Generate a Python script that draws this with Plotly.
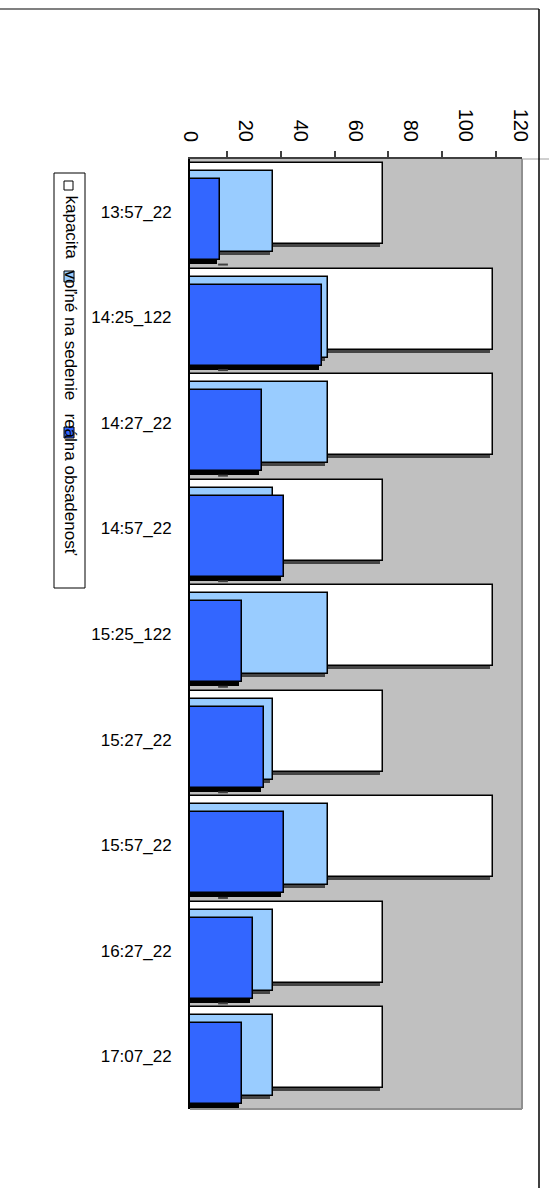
import plotly.graph_objects as go

# Bus departures (time_line) and their occupancy figures
categories = ["13:57_22", "14:25_122", "14:27_22", "14:57_22", "15:25_122",
              "15:27_22", "15:57_22", "16:27_22", "17:07_22"]
kapacita = [70, 110, 110, 70, 110, 70, 110, 70, 70]
volne_na_sedenie = [30, 50, 50, 30, 50, 30, 50, 30, 30]
realna_obsadenost = [11, 48, 26, 34, 19, 27, 34, 23, 19]
value_ticks = [0, 20, 40, 60, 80, 100, 120]

series_names = ["kapacita", "voľné na sedenie", "reálna obsadenosť"]

FONT = "Arial, Liberation Sans, sans-serif"
W, H = 549, 1188
PL, PR, PT, PB = 190, 522, 159, 1109   # plot area in pixels
PW, PH = PR - PL, PB - PT
X_MAX = 120.7                            # value range shown


def px(x):
    return (x - PL) / PW


def py(y):
    return (PB - y) / PH


pos = list(range(len(categories)))
band = PH / len(categories)
bar_w = 81 / band
off0 = -0.5 + 4 / band
step = 8 / band
shadow_dx = 3 * X_MAX / PW

fills = ["#FFFFFF", "#99CCFF", "#3366FF"]
shadow_cols = ["#454545", "#454545", "#000000"]
shadow_dy = [3, 3, 4]
values = [kapacita, volne_na_sedenie, realna_obsadenost]

fig = go.Figure()
for i, (vals, col) in enumerate(zip(values, fills)):
    off = off0 + i * step
    # drop shadow under each bar
    fig.add_trace(go.Bar(
        orientation="h", y=pos, x=vals, base=[-shadow_dx] * len(vals),
        width=bar_w, offset=off + shadow_dy[i] / band,
        marker=dict(color=shadow_cols[i], line=dict(width=0)),
        hoverinfo="skip", showlegend=False))
    fig.add_trace(go.Bar(
        orientation="h", y=pos, x=vals, name=series_names[i],
        width=bar_w, offset=off,
        marker=dict(color=col, line=dict(color="#000000", width=1.5)),
        showlegend=False))

# small category separators
fig.add_trace(go.Scatter(
    x=[12] * len(categories), y=[p + 0.5 for p in pos], mode="markers",
    marker=dict(symbol="line-ew", size=7, line=dict(color="#404040", width=2)),
    hoverinfo="skip", showlegend=False))

# carrier for the offset tick-mark axis
fig.add_trace(go.Scatter(x=[], y=[], xaxis="x2", yaxis="y", showlegend=False))

fig.update_layout(
    width=W, height=H, autosize=False,
    margin=dict(l=PL, r=W - PR, t=PT, b=H - PB, pad=0),
    paper_bgcolor="#FFFFFF", plot_bgcolor="#C0C0C0",
    barmode="overlay", bargap=0,
    font=dict(family=FONT, color="#000000"),
    xaxis=dict(side="top", range=[0, X_MAX], tickvals=value_ticks,
               tickangle=90, ticks="", showgrid=False, zeroline=False,
               showline=True, linecolor="#404040", linewidth=2,
               tickfont=dict(size=20, family=FONT), ticklabelstandoff=8),
    xaxis2=dict(overlaying="x", side="top", range=[6.245, 129.66],
                tickvals=value_ticks[1:], ticks="outside", ticklen=7,
                tickcolor="#404040", tickwidth=1.5, showticklabels=False,
                showgrid=False, zeroline=False, showline=False),
    yaxis=dict(range=[len(categories) - 0.5, -0.5], tickvals=pos,
               ticktext=categories, ticks="", showgrid=False, zeroline=False,
               showline=True, linecolor="#000000", linewidth=2,
               tickfont=dict(size=17, family=FONT), ticklabelstandoff=13),
)

shapes = [
    # plot-area right and bottom edges
    dict(type="line", xref="paper", yref="paper", x0=1, x1=1, y0=0, y1=1,
         line=dict(color="#909090", width=2)),
    dict(type="line", xref="paper", yref="paper", x0=0, x1=1, y0=0, y1=0,
         line=dict(color="#909090", width=2)),
    dict(type="line", xref="paper", yref="paper", x0=1, x1=px(W), y0=1, y1=1,
         line=dict(color="#A0A0A0", width=1)),
    # chart-area frame
    dict(type="line", xref="paper", yref="paper", x0=px(0), x1=px(539),
         y0=py(9), y1=py(9), line=dict(color="#808080", width=2)),
    dict(type="line", xref="paper", yref="paper", x0=px(539), x1=px(539),
         y0=py(9), y1=py(H), line=dict(color="#000000", width=1.5)),
    # legend box
    dict(type="rect", xref="paper", yref="paper", x0=px(54), x1=px(85),
         y0=py(588), y1=py(173), fillcolor="#FFFFFF",
         line=dict(color="#000000", width=1)),
    # legend keys
    dict(type="rect", xref="paper", yref="paper", x0=px(64), x1=px(73),
         y0=py(190), y1=py(181), fillcolor=fills[0],
         line=dict(color="#000000", width=1)),
    dict(type="rect", xref="paper", yref="paper", x0=px(64), x1=px(74),
         y0=py(282), y1=py(271), fillcolor=fills[1],
         line=dict(color="#000000", width=1)),
    dict(type="rect", xref="paper", yref="paper", x0=px(64), x1=px(74),
         y0=py(438), y1=py(427), fillcolor=fills[2],
         line=dict(color="#000000", width=1)),
]
fig.update_layout(shapes=shapes)

legend_text_tops = [193, 268, 411]
for name, top in zip(series_names, legend_text_tops):
    fig.add_annotation(text=name, xref="paper", yref="paper", x=px(70.5),
                       y=py(top), xanchor="center", yanchor="top",
                       textangle=90, showarrow=False,
                       font=dict(size=17, family=FONT, color="#000000"))

fig.write_html("out.html", include_plotlyjs=True,
               config={"displayModeBar": False})
